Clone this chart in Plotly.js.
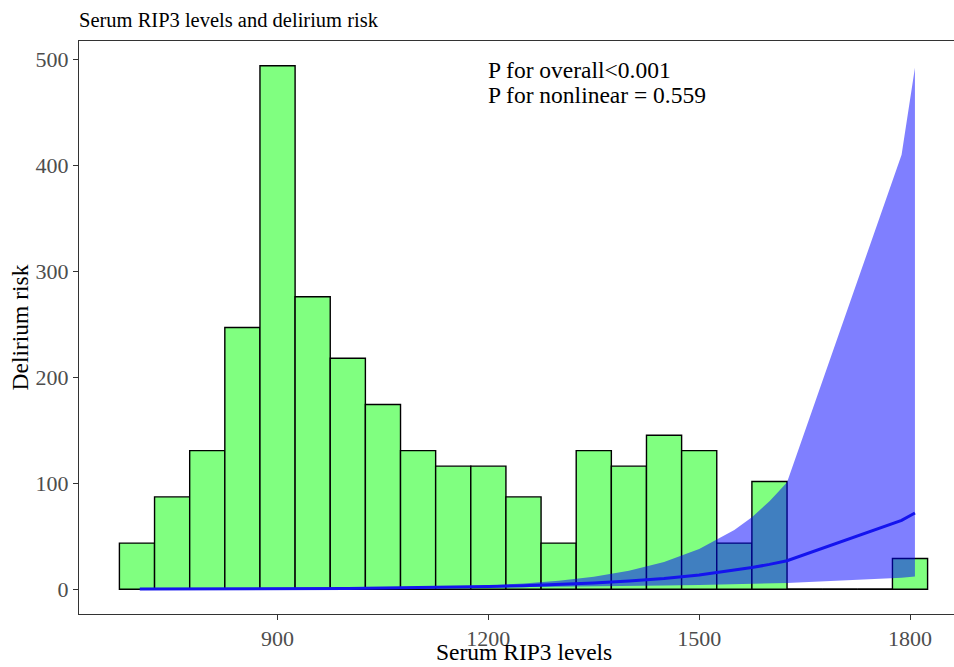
<!DOCTYPE html>
<html>
<head>
<meta charset="utf-8">
<script src="https://cdn.plot.ly/plotly-3.0.1.min.js"></script>
<style>
html, body { margin: 0; padding: 0; overflow: hidden; background: #fff; }
#chart { width: 970px; height: 667px; }
</style>
</head>
<body>
<div id="chart"></div>
<script>
// Histogram of serum RIP3 levels (bin width 50)
const binCenters = [700, 750, 800, 850, 900, 950, 1000, 1050, 1100, 1150, 1200, 1250,
                    1300, 1350, 1400, 1450, 1500, 1550, 1600, 1650, 1700, 1750, 1800];
const binHeights = [43.6, 87.2, 130.8, 247, 494, 276, 218, 174.4, 130.8, 116.2, 116.2, 87.2,
                    43.6, 130.8, 116.2, 145.3, 130.8, 43.6, 101.7, 0, 0, 0, 29.1];
const binWidth = 50;

// Restricted cubic spline: delirium risk (OR) with 95% CI
const rcsX     = [704, 750, 800, 850, 900, 950, 1000, 1050, 1100, 1150, 1200, 1250,
                  1300, 1350, 1400, 1450, 1500, 1550, 1575, 1600, 1612, 1625, 1788, 1807];
const rcsFit   = [0.2, 0.22, 0.29, 0.38, 0.5, 0.66, 0.87, 1.15, 1.5, 2.0, 2.6, 3.4,
                  4.5, 5.9, 7.8, 10.3, 13.6, 17.9, 20.5, 23.5, 25.2, 27, 65, 72];
const rcsLower = [0.05, 0.07, 0.1, 0.15, 0.25, 0.4, 0.7, 0.9, 1.1, 1.35, 1.6, 1.9,
                  2.2, 2.6, 3.0, 3.5, 4.0, 4.7, 5.1, 5.5, 5.8, 6.0, 11, 12];
const rcsUpper = [0.5, 0.5, 0.55, 0.65, 0.8, 1.0, 1.1, 1.4, 1.9, 2.5, 3.7, 5.4,
                  8.0, 11.8, 17.5, 25.8, 38, 56, 68, 83, 91.5, 101, 410, 492];

const xTicks = [900, 1200, 1500, 1800];
const yTicks = [0, 100, 200, 300, 400, 500];

const titleText = "Serum RIP3 levels and delirium risk";
const xTitle = "Serum RIP3 levels";
const yTitle = "Delirium risk";
const pOverall = "P for overall<0.001";
const pNonlinear = "P for nonlinear = 0.559";

const serif = "Liberation Serif, Times New Roman, serif";

// baseline segments for empty bins (ggplot draws their outline at 0)
const emptyX = [], emptyY = [];
binHeights.forEach((h, i) => {
  if (h === 0) {
    emptyX.push(binCenters[i] - binWidth / 2, binCenters[i] + binWidth / 2, null);
    emptyY.push(0, 0, null);
  }
});

const traces = [
  {
    type: 'bar', x: binCenters, y: binHeights, width: binWidth,
    marker: { color: '#80FF80', line: { color: '#000000', width: 1.4 } },
    hoverinfo: 'skip', showlegend: false
  },
  {
    type: 'scatter', mode: 'lines', x: emptyX, y: emptyY,
    line: { color: '#000000', width: 1.4 }, hoverinfo: 'skip', showlegend: false
  },
  {
    type: 'scatter', mode: 'lines', x: rcsX, y: rcsLower,
    line: { width: 0, color: 'rgba(0,0,255,0)' }, hoverinfo: 'skip', showlegend: false
  },
  {
    type: 'scatter', mode: 'lines', x: rcsX, y: rcsUpper, fill: 'tonexty',
    fillcolor: 'rgba(0,0,255,0.5)',
    line: { width: 0, color: 'rgba(0,0,255,0)' }, hoverinfo: 'skip', showlegend: false
  },
  {
    type: 'scatter', mode: 'lines', x: rcsX, y: rcsFit,
    line: { color: '#1414EE', width: 3 }, hoverinfo: 'skip', showlegend: false
  }
];

const layout = {
  width: 970, height: 667,
  margin: { l: 79, r: 2, t: 41, b: 53 },
  paper_bgcolor: '#ffffff', plot_bgcolor: '#ffffff',
  font: { family: serif, color: '#000000' },
  bargap: 0, barmode: 'overlay',
  showlegend: false,
  title: {
    text: titleText, x: 0, xref: 'paper', xanchor: 'left',
    y: 1 - 20 / 667, yref: 'container', yanchor: 'middle',
    font: { family: serif, size: 20.5, color: '#000000' }
  },
  xaxis: {
    range: [617.5, 1882.5], tickvals: xTicks, ticktext: xTicks.map(String),
    showgrid: false, zeroline: false,
    showline: true, linecolor: '#333333', linewidth: 1, mirror: true,
    ticks: 'outside', ticklen: 5, tickwidth: 1, tickcolor: '#333333',
    tickfont: { family: serif, size: 22, color: '#4d4d4d' }
  },
  yaxis: {
    range: [-23.3, 517.3], tickvals: yTicks, ticktext: yTicks.map(String),
    showgrid: false, zeroline: false,
    showline: true, linecolor: '#333333', linewidth: 1, mirror: true,
    ticks: 'outside', ticklen: 5, tickwidth: 1, tickcolor: '#333333',
    tickfont: { family: serif, size: 22, color: '#4d4d4d' },
    title: { text: yTitle, standoff: 0, font: { family: serif, size: 23.5, color: '#000000' } }
  },
  annotations: [
    { text: xTitle, x: 0.5, y: -53 / 573, xref: 'paper', yref: 'paper',
      xanchor: 'center', yanchor: 'bottom', showarrow: false,
      font: { family: serif, size: 23.5, color: '#000000' } },
    { text: pOverall, x: 1197, y: 490, xref: 'x', yref: 'y', xanchor: 'left', yanchor: 'middle',
      showarrow: false, font: { family: serif, size: 23.5, color: '#000000' } },
    { text: pNonlinear, x: 1197, y: 466, xref: 'x', yref: 'y', xanchor: 'left', yanchor: 'middle',
      showarrow: false, font: { family: serif, size: 23.5, color: '#000000' } }
  ]
};

Plotly.newPlot('chart', traces, layout, { staticPlot: true, displayModeBar: false });
</script>
</body>
</html>
